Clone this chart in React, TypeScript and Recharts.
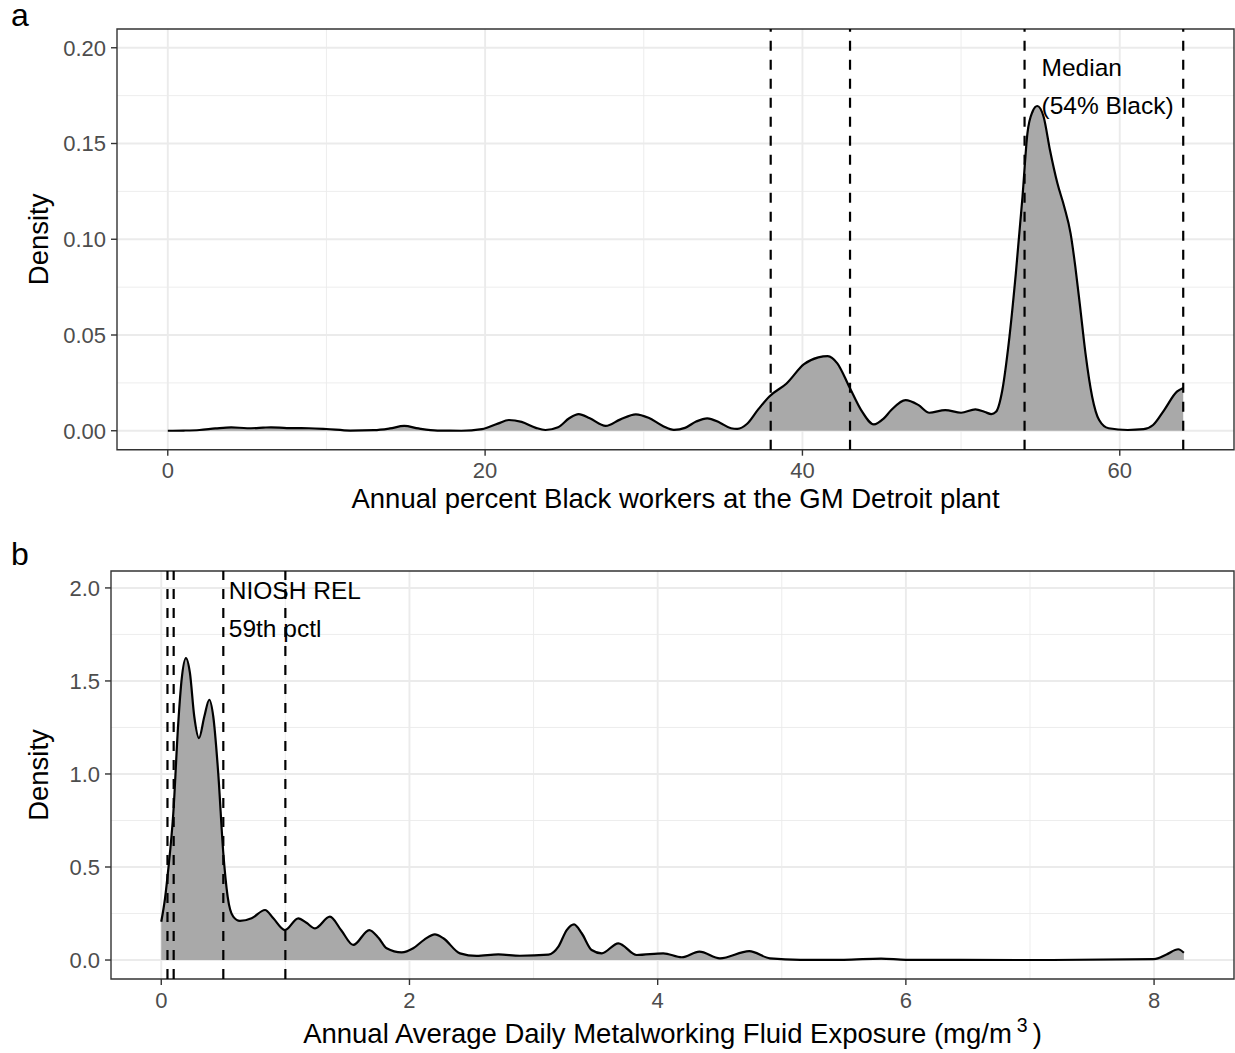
import React from "react";
import {
  AreaChart,
  Area,
  XAxis,
  YAxis,
  CartesianGrid,
  ReferenceLine,
  ReferenceArea,
} from "recharts";

const FONT = "'Liberation Sans', Arial, Helvetica, sans-serif";

// panel a: annual percent Black workers
const pctX = [
  0, 1, 2, 3, 4, 5, 6, 6.5, 7.5, 8.9, 10, 11.5, 13, 14, 14.9, 15.8, 17, 18.5,
  19.8, 20.8, 21.5, 22.3, 23.2, 23.8, 24.6, 25.3, 25.9, 26.6, 27.6, 28.5, 29.5,
  30.3, 31.2, 31.9, 32.6, 33.3, 34, 34.8, 35.5, 35.9, 36.5, 37.2, 37.9, 39,
  40.1, 41, 41.6, 42.2, 42.95, 43.7, 44.5, 45.1, 45.6, 46.5, 47.3, 48, 49, 50,
  50.9, 51.5, 51.9, 52.2, 52.6, 53, 53.45, 53.87, 54.18, 54.5, 54.8, 55.2,
  55.6, 56.07, 56.5, 56.9, 57.2, 57.5, 57.84, 58.26, 58.7, 59.3, 60.5, 61.5,
  62.1, 62.8, 63.6, 64,
];
const pctDensity = [
  0, 0.0001, 0.0004, 0.0012, 0.0018, 0.0013, 0.0016, 0.0018, 0.0014, 0.0013,
  0.0009, 0.0001, 0.0003, 0.0012, 0.0025, 0.0012, 0.0001, 0, 0.0008, 0.0037,
  0.0056, 0.0046, 0.0015, 0.0004, 0.0018, 0.0065, 0.0087, 0.0065, 0.0025,
  0.0058, 0.0086, 0.0068, 0.0025, 0.0005, 0.0015, 0.0048, 0.0065, 0.0042,
  0.0013, 0.001, 0.0035, 0.011, 0.0178, 0.0247, 0.0348, 0.0383, 0.039, 0.0352,
  0.023, 0.0108, 0.0033, 0.0062, 0.0108, 0.016, 0.0135, 0.0094, 0.0108,
  0.0094, 0.0112, 0.0098, 0.0087, 0.0099, 0.0213, 0.0456, 0.0822, 0.1222,
  0.1553, 0.1666, 0.1696, 0.164, 0.1466, 0.1292, 0.117, 0.1031, 0.0856,
  0.0648, 0.0404, 0.0178, 0.0056, 0.0013, 0.0004, 0.0008, 0.003, 0.0108,
  0.0204, 0.0223,
];
const pctTicks = [0, 20, 40, 60];
const pctMinor = [10, 30, 50];
const pctYTicks = [0, 0.05, 0.1, 0.15, 0.2];
const pctYMinor = [0.025, 0.075, 0.125, 0.175];
const pctCuts = [38, 43, 54, 64];
const pctNote = ["Median", "(54% Black)"];

// panel b: metalworking fluid exposure
const mwfX = [
  0, 0.03, 0.056, 0.097, 0.137, 0.164, 0.199, 0.231, 0.266, 0.304, 0.347,
  0.387, 0.419, 0.459, 0.5, 0.535, 0.58, 0.634, 0.728, 0.836, 0.903, 0.997,
  1.104, 1.17, 1.239, 1.359, 1.45, 1.547, 1.676, 1.75, 1.816, 1.937, 2.03,
  2.12, 2.205, 2.273, 2.407, 2.541, 2.716, 2.89, 3.12, 3.2, 3.267, 3.326,
  3.388, 3.468, 3.549, 3.683, 3.831, 4.045, 4.194, 4.336, 4.502, 4.738, 4.905,
  5.15, 5.5, 5.8, 6, 7, 8, 8.1, 8.195, 8.24,
];
const mwfDensity = [
  0.206, 0.33, 0.484, 0.789, 1.274, 1.507, 1.623, 1.543, 1.309, 1.193, 1.309,
  1.399, 1.309, 1.005, 0.574, 0.341, 0.233, 0.21, 0.224, 0.269, 0.224, 0.161,
  0.224, 0.2, 0.17, 0.233, 0.16, 0.081, 0.161, 0.12, 0.063, 0.041, 0.063,
  0.11, 0.138, 0.117, 0.036, 0.022, 0.03, 0.023, 0.029, 0.072, 0.161, 0.192,
  0.144, 0.054, 0.036, 0.09, 0.027, 0.036, 0.015, 0.045, 0.009, 0.048, 0.009,
  0.001, 0.001, 0.008, 0.001, 0, 0.005, 0.03, 0.058, 0.039,
];
const mwfTicks = [0, 2, 4, 6, 8];
const mwfMinor = [1, 3, 5, 7];
const mwfYTicks = [0, 0.5, 1, 1.5, 2];
const mwfYMinor = [0.25, 0.75, 1.25, 1.75];
const mwfCuts = [0.05, 0.1, 0.5, 1];
const mwfNote = ["NIOSH REL", "59th pctl"];

const pctData = pctX.map((x, i) => ({ x, y: pctDensity[i] }));
const mwfData = mwfX.map((x, i) => ({ x, y: mwfDensity[i] }));

function DensityPanel(props: any) {
  const {
    data, xDomain, yDomain, xTicks, xMinor, yTicks, yMinor, yDigits, cuts,
    noteAt, note, noteDx, noteDy, xTitle, titleDy, height, margin, yWidth,
  } = props;

  const renderNote = (p: any) => {
    const vb = p.viewBox || {};
    return (
      <g fontFamily={FONT} fontSize={24.5} fill="#000">
        {note.map((line: string, i: number) => (
          <text key={i} x={vb.x + noteDx} y={vb.y + noteDy[i]}>
            {line}
          </text>
        ))}
      </g>
    );
  };

  return (
    <AreaChart width={1235} height={height} data={data} margin={margin}>
      <CartesianGrid
        stroke="#ebebeb"
        strokeWidth={0.9}
        horizontalValues={yMinor}
        verticalValues={xMinor}
      />
      <CartesianGrid
        stroke="#ebebeb"
        strokeWidth={1.9}
        horizontalValues={yTicks}
        verticalValues={xTicks}
      />
      <XAxis
        dataKey="x"
        type="number"
        domain={xDomain}
        ticks={xTicks}
        interval={0}
        allowDataOverflow
        axisLine={false}
        tickSize={6}
        tickMargin={7}
        tickLine={{ stroke: "#333333", strokeWidth: 1.4 }}
        tick={{ fill: "#4d4d4d", fontSize: 22, fontFamily: FONT }}
        height={60}
        label={(p: any) => {
          const vb = p.viewBox || {};
          return (
            <text
              x={vb.x + vb.width / 2}
              y={vb.y + titleDy}
              textAnchor="middle"
              fontFamily={FONT}
              fontSize={27.5}
              fill="#000"
            >
              {xTitle}
            </text>
          );
        }}
      />
      <YAxis
        type="number"
        domain={yDomain}
        ticks={yTicks}
        interval={0}
        allowDataOverflow
        width={yWidth}
        axisLine={false}
        tickSize={6}
        tickMargin={5}
        tickLine={{ stroke: "#333333", strokeWidth: 1.4 }}
        tick={{ fill: "#4d4d4d", fontSize: 22, fontFamily: FONT }}
        tickFormatter={(v: number) => v.toFixed(yDigits)}
        label={(p: any) => {
          const vb = p.viewBox || {};
          const cy = vb.y + vb.height / 2;
          return (
            <text
              x={47.8}
              y={cy}
              textAnchor="middle"
              transform={`rotate(-90, 47.8, ${cy})`}
              fontFamily={FONT}
              fontSize={27.5}
              fill="#000"
            >
              Density
            </text>
          );
        }}
      />
      <Area
        dataKey="y"
        type="monotone"
        stroke="#000"
        strokeWidth={2.2}
        fill="#a9a9a9"
        fillOpacity={1}
        baseValue={0}
        dot={false}
        activeDot={false}
        isAnimationActive={false}
      />
      {cuts.map((c: number) => (
        <ReferenceLine
          key={c}
          x={c}
          stroke="#000"
          strokeWidth={2.2}
          strokeDasharray="10 9"
          label={c === noteAt ? renderNote : undefined}
        />
      ))}
      <ReferenceArea
        x1={xDomain[0]}
        x2={xDomain[1]}
        y1={yDomain[0]}
        y2={yDomain[1]}
        fill="none"
        stroke="#333333"
        strokeWidth={1.4}
        ifOverflow="visible"
      />
    </AreaChart>
  );
}

export default function App() {
  return (
    <div
      style={{
        position: "absolute",
        left: 0,
        top: 0,
        width: 1235,
        height: 1053,
        background: "#fff",
      }}
    >
      <div style={{ position: "absolute", left: 0, top: 0 }}>
        <DensityPanel
          data={pctData}
          xDomain={[-3.2, 67.2]}
          yDomain={[-0.0099, 0.2098]}
          xTicks={pctTicks}
          xMinor={pctMinor}
          yTicks={pctYTicks}
          yMinor={pctYMinor}
          yDigits={2}
          cuts={pctCuts}
          noteAt={54}
          note={pctNote}
          noteDx={17}
          noteDy={[47, 85]}
          xTitle="Annual percent Black workers at the GM Detroit plant"
          titleDy={58.6}
          height={540}
          margin={{ top: 29, right: 1, bottom: 30.3, left: 0 }}
          yWidth={117}
        />
      </div>
      <div style={{ position: "absolute", left: 0, top: 540 }}>
        <DensityPanel
          data={mwfData}
          xDomain={[-0.405, 8.644]}
          yDomain={[-0.102, 2.091]}
          xTicks={mwfTicks}
          xMinor={mwfMinor}
          yTicks={mwfYTicks}
          yMinor={mwfYMinor}
          yDigits={1}
          cuts={mwfCuts}
          noteAt={0.5}
          note={mwfNote}
          noteDx={5.5}
          noteDy={[28.3, 65.7]}
          xTitle={
            <>
              Annual Average Daily Metalworking Fluid Exposure (mg/m
              <tspan dx={5} dy={-11} fontSize={19.5}>
                3
              </tspan>
              <tspan dx={5} dy={11}>
                )
              </tspan>
            </>
          }
          titleDy={64.3}
          height={513}
          margin={{ top: 31, right: 1, bottom: 14, left: 0 }}
          yWidth={111}
        />
      </div>
      <svg
        width={1235}
        height={1053}
        style={{ position: "absolute", left: 0, top: 0, pointerEvents: "none" }}
      >
        <text x={11} y={26} fontFamily={FONT} fontSize={32} fill="#000">
          a
        </text>
        <text x={11} y={565} fontFamily={FONT} fontSize={32} fill="#000">
          b
        </text>
      </svg>
    </div>
  );
}
